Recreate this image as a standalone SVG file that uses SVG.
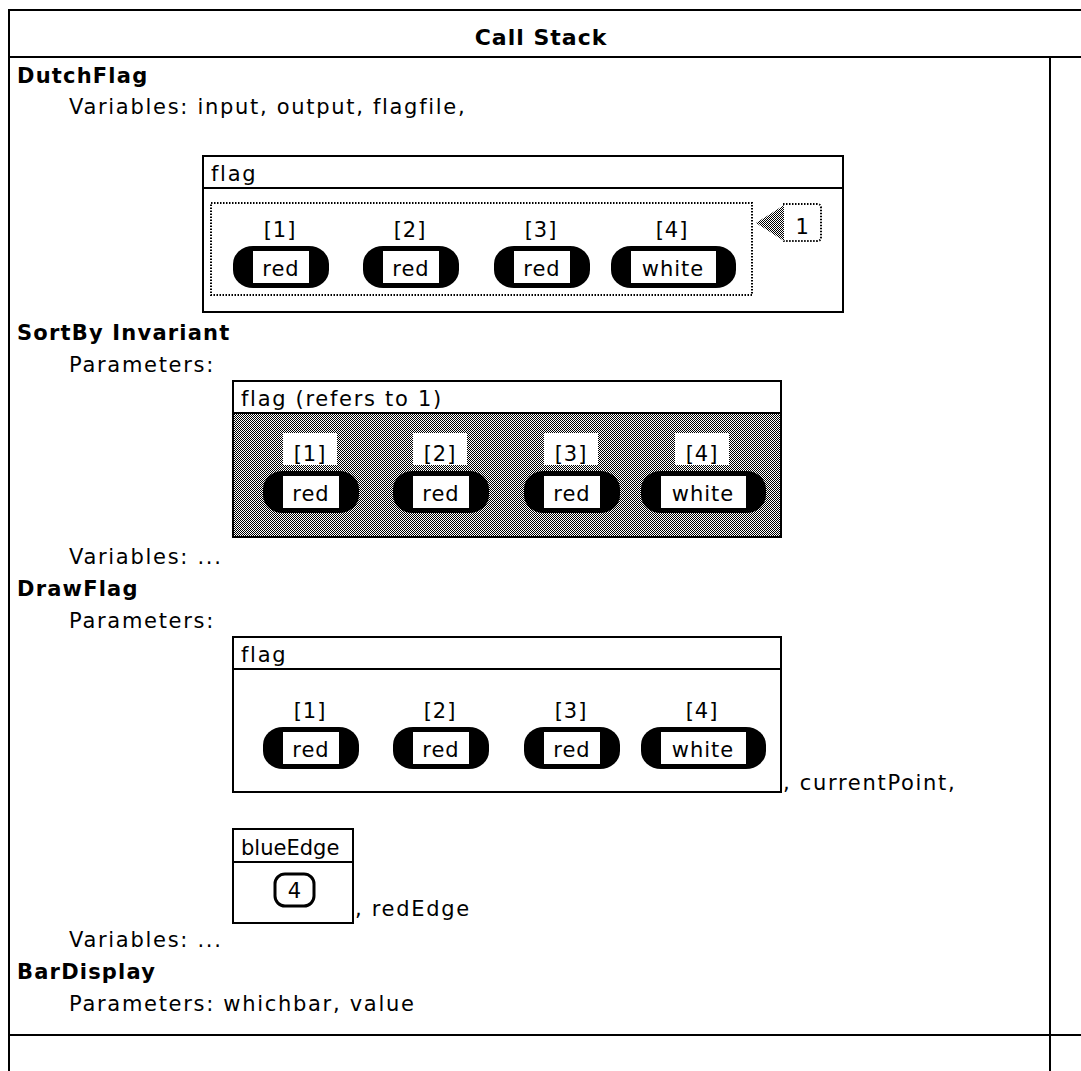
<svg xmlns="http://www.w3.org/2000/svg" width="1081" height="1071" viewBox="0 0 1081 1071">
<style>
text{font-family:"DejaVu Sans","Liberation Sans",sans-serif;font-size:21px;fill:#000;letter-spacing:1.7px}
.b{font-weight:bold;letter-spacing:1.2px}
.title{font-size:22px;font-weight:bold;letter-spacing:1px}
.ln{stroke:#000;stroke-width:2;fill:none}
.box{stroke:#000;stroke-width:2;fill:#fff}
.pill{fill:#000}
.inner{fill:#fff;stroke:none}
.dot{stroke:#000;stroke-width:2;stroke-dasharray:1.5 1.5;fill:none}
.c{text-anchor:middle}
.ix{letter-spacing:1px}
</style>
<defs>
<pattern id="dith" width="2" height="2" patternUnits="userSpaceOnUse">
<rect width="2" height="2" fill="#fff"/>
<rect width="1" height="1" fill="#000"/>
<rect x="1" y="1" width="1" height="1" fill="#000"/>
</pattern>
</defs>
<rect width="1081" height="1071" fill="#fff"/>

<g id="frame">
<line class="ln" x1="9" y1="10" x2="1081" y2="10"/>
<line class="ln" x1="9" y1="57" x2="1081" y2="57"/>
<line class="ln" x1="9" y1="9" x2="9" y2="1071"/>
<line class="ln" x1="1050" y1="57" x2="1050" y2="1071"/>
<line class="ln" x1="9" y1="1035" x2="1081" y2="1035"/>
<text class="title c" x="541" y="45">Call Stack</text>
</g>

<g id="DutchFlag">
<text class="b" x="17" y="83">DutchFlag</text>
<text x="69" y="114">Variables: input, output, flagfile,</text>
</g>

<g id="flag1">
<rect class="box" x="203" y="156" width="640" height="156"/>
<line class="ln" x1="203" y1="188" x2="843" y2="188"/>
<text x="211" y="181">flag</text>
<rect class="dot" x="211" y="203" width="541" height="92"/>
<text class="c ix" x="280" y="237">[1]</text>
<text class="c ix" x="410" y="237">[2]</text>
<text class="c ix" x="541" y="237">[3]</text>
<text class="c ix" x="672" y="237">[4]</text>
<rect class="pill" x="233" y="246" width="96" height="42" rx="20" ry="18"/>
<rect class="pill" x="363" y="246" width="96" height="42" rx="20" ry="18"/>
<rect class="pill" x="494" y="246" width="96" height="42" rx="20" ry="18"/>
<rect class="pill" x="611" y="246" width="125" height="42" rx="20" ry="18"/>
<rect class="inner" x="253" y="251" width="56" height="32"/>
<rect class="inner" x="383" y="251" width="56" height="32"/>
<rect class="inner" x="514" y="251" width="56" height="32"/>
<rect class="inner" x="631" y="251" width="85" height="32"/>
<text class="c ix" x="281" y="276">red</text>
<text class="c ix" x="411" y="276">red</text>
<text class="c ix" x="542" y="276">red</text>
<text class="c ix" x="673" y="276">white</text>
<path class="dot" d="M783 204 H817 Q821 204 821 208 V237 Q821 241 817 241 H783"/>
<text class="c" x="803" y="234">1</text>
</g>

<g id="SortByInvariant">
<text class="b" x="17" y="340">SortBy Invariant</text>
<text x="69" y="372">Parameters:</text>
<text x="69" y="564">Variables: ...</text>
</g>

<g id="flag2">
<rect class="box" x="233" y="381" width="548" height="156"/>
<rect x="234" y="413" width="546" height="123" fill="url(#dith)"/>
<line class="ln" x1="233" y1="413" x2="781" y2="413"/>
<text x="241" y="406">flag  (refers to 1)</text>
<rect class="inner" x="283" y="433" width="54" height="32"/>
<rect class="inner" x="413" y="433" width="54" height="32"/>
<rect class="inner" x="544" y="433" width="54" height="32"/>
<rect class="inner" x="675" y="433" width="54" height="32"/>
<text class="c ix" x="310" y="461">[1]</text>
<text class="c ix" x="440" y="461">[2]</text>
<text class="c ix" x="571" y="461">[3]</text>
<text class="c ix" x="702" y="461">[4]</text>
<rect class="pill" x="263" y="471" width="96" height="42" rx="20" ry="18"/>
<rect class="pill" x="393" y="471" width="96" height="42" rx="20" ry="18"/>
<rect class="pill" x="524" y="471" width="96" height="42" rx="20" ry="18"/>
<rect class="pill" x="641" y="471" width="125" height="42" rx="20" ry="18"/>
<rect class="inner" x="283" y="476" width="56" height="32"/>
<rect class="inner" x="413" y="476" width="56" height="32"/>
<rect class="inner" x="544" y="476" width="56" height="32"/>
<rect class="inner" x="661" y="476" width="85" height="32"/>
<text class="c ix" x="311" y="501">red</text>
<text class="c ix" x="441" y="501">red</text>
<text class="c ix" x="572" y="501">red</text>
<text class="c ix" x="703" y="501">white</text>
</g>

<g id="DrawFlag">
<text class="b" x="17" y="596">DrawFlag</text>
<text x="69" y="628">Parameters:</text>
<text x="783" y="790">, currentPoint,</text>
<text x="355" y="916">, redEdge</text>
<text x="69" y="947">Variables: ...</text>
</g>

<g id="flag3">
<rect class="box" x="233" y="637" width="548" height="155"/>
<line class="ln" x1="233" y1="669" x2="781" y2="669"/>
<text x="241" y="662">flag</text>
<text class="c ix" x="310" y="718">[1]</text>
<text class="c ix" x="440" y="718">[2]</text>
<text class="c ix" x="571" y="718">[3]</text>
<text class="c ix" x="702" y="718">[4]</text>
<rect class="pill" x="263" y="727" width="96" height="42" rx="20" ry="18"/>
<rect class="pill" x="393" y="727" width="96" height="42" rx="20" ry="18"/>
<rect class="pill" x="524" y="727" width="96" height="42" rx="20" ry="18"/>
<rect class="pill" x="641" y="727" width="125" height="42" rx="20" ry="18"/>
<rect class="inner" x="283" y="732" width="56" height="32"/>
<rect class="inner" x="413" y="732" width="56" height="32"/>
<rect class="inner" x="544" y="732" width="56" height="32"/>
<rect class="inner" x="661" y="732" width="85" height="32"/>
<text class="c ix" x="311" y="757">red</text>
<text class="c ix" x="441" y="757">red</text>
<text class="c ix" x="572" y="757">red</text>
<text class="c ix" x="703" y="757">white</text>
</g>

<g id="blueEdge">
<rect class="box" x="233" y="829" width="120" height="94"/>
<line class="ln" x1="233" y1="862" x2="353" y2="862"/>
<text x="241" y="855" textLength="100">blueEdge</text>
<rect x="275" y="874" width="39" height="32" rx="10" fill="none" stroke="#000" stroke-width="3"/>
<text class="c ix" x="295" y="898">4</text>
</g>

<g id="BarDisplay">
<text class="b" x="17" y="979">BarDisplay</text>
<text x="69" y="1011">Parameters: whichbar, value</text>
</g>

<g id="connectors">
<polygon points="756,223 784,205 784,241" fill="url(#dith)"/>
</g>
</svg>
